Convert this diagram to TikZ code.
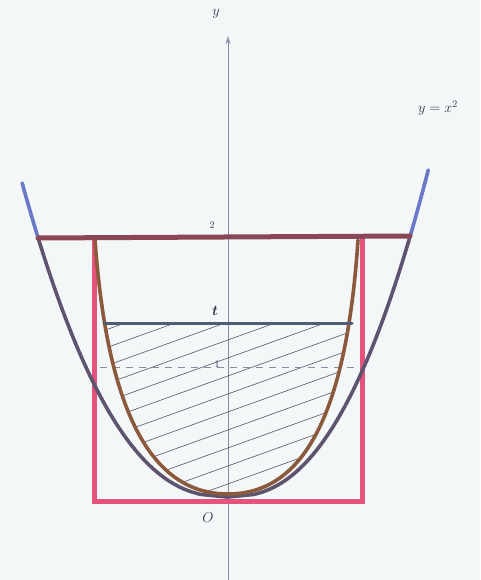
\documentclass[tikz,border=0pt]{standalone}
\usepackage{amsmath}
\usetikzlibrary{arrows.meta}
\definecolor{paper}{HTML}{F4F7F7}
\definecolor{pinkc}{HTML}{E5527C}
\definecolor{brownc}{HTML}{8B5A3C}
\definecolor{outerc}{HTML}{5E5470}
\definecolor{bluec}{HTML}{6A78C8}
\definecolor{topc}{HTML}{8A4656}
\definecolor{tlinec}{HTML}{4E5C74}
\definecolor{axisc}{HTML}{8A8AA2}
\definecolor{hatchc}{HTML}{6A6478}
\definecolor{labc}{HTML}{30354F}
\tikzset{
  lab/.style={text=labc, inner sep=1pt},
  curvebase/.style={line width=3.6pt, line cap=round, line join=round},
}
\begin{document}
\begin{tikzpicture}[x=1pt,y=-1pt]
\useasboundingbox[fill=paper] (0,0) rectangle (480,580);
% axis
\draw[axisc, line width=0.8pt, -{Stealth[length=8pt,width=5pt,open]}] (228,580) -- (228,36);
% hatching
\begin{scope}
  \clip (0,323) rectangle (480,580);
  \clip (95,240) .. controls (108,420) and (155,494) .. (228,494) .. controls (301,494) and (346,420) .. (358,240) -- cycle;
  \foreach \n in {-7,...,9}{
    \draw[hatchc, line width=0.7pt] (0,{476+18*\n}) -- (480,{476+18*\n-0.36*480});
  }
\end{scope}
% dashed level 1
\draw[axisc, line width=0.7pt, dash pattern=on 7pt off 6pt] (100,367) -- (356,367);
% pink rectangle
\draw[pinkc, line width=5pt, line join=miter] (94,238) -- (94,501) -- (362,501) -- (362,238);
% outer parabola y=x^2
\draw[outerc, curvebase] plot[domain=260:0, samples=100] ({228-18.4*(\x)^0.42},{497-\x})
  -- plot[domain=0:260, samples=100] ({228+17.6*(\x)^0.42},{497-\x});
\draw[bluec, curvebase] plot[domain=260:314, samples=20] ({228-18.4*(\x)^0.42},{497-\x});
\draw[bluec, curvebase] plot[domain=260:327, samples=20] ({228+17.6*(\x)^0.42},{497-\x});
% inner brown curve
\draw[brownc, curvebase] (95,240) .. controls (108,420) and (155,494) .. (228,494) .. controls (301,494) and (346,420) .. (358,240);
% level 2
\draw[topc, line width=5pt, line cap=round] (38,238) -- (410,236);
% level t
\draw[tlinec, line width=3pt, line cap=round] (104,323) -- (352,323);
% labels
\node[lab, font=\Large] (ylab) at (216,14) {$y$};
\node[lab, font=\normalsize] (two) at (212,225) {$2$};
\node[lab, font=\Large\bfseries] (tlab) at (215,311) {$\boldsymbol{t}$};
\node[lab, font=\normalsize] (one) at (217,364) {$1$};
\node[lab, font=\Large] (orig) at (208,518) {$O$};
\node[lab, font=\Large] (eq) at (438,108) {$y=x^2$};
\end{tikzpicture}
\end{document}
